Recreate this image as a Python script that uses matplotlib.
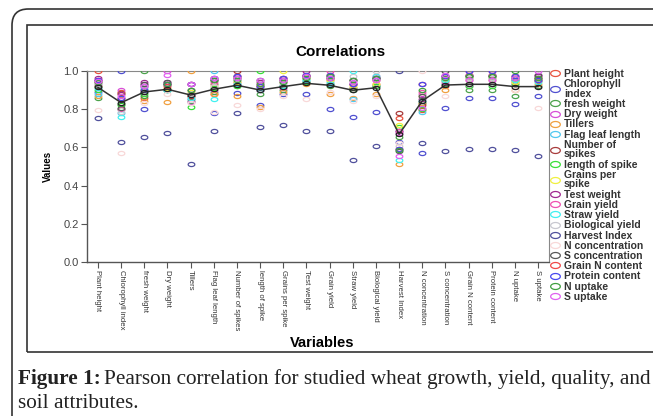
import numpy as np
import matplotlib.pyplot as plt
from matplotlib import font_manager
from matplotlib.path import Path
from matplotlib.patches import FancyBboxPatch, Rectangle

variables = ['Plant height', 'Chlorophyll index', 'fresh weight', 'Dry weight', 'Tillers',
             'Flag leaf length', 'Number of spikes', 'length of spike', 'Grains per spike',
             'Test weight', 'Grain yield', 'Straw yield', 'Biological yield', 'Harvest Index',
             'N concentration', 'S concentration', 'Grain N content', 'Protein content',
             'N uptake', 'S uptake']

legend_labels = ['Plant height', 'Chlorophyll\nindex', 'fresh weight', 'Dry weight', 'Tillers',
                 'Flag leaf length', 'Number of\nspikes', 'length of spike', 'Grains per\nspike',
                 'Test weight', 'Grain yield', 'Straw yield', 'Biological yield', 'Harvest Index',
                 'N concentration', 'S concentration', 'Grain N content', 'Protein content',
                 'N uptake', 'S uptake']

# correlation of each variable (series) with every variable on the x axis
plant_height = [1.0, 0.89, 0.855, 0.93, 0.87, 0.88, 0.94, 0.90, 0.92, 0.96, 0.95, 0.91, 0.93, 0.755, 0.795, 0.92, 0.95, 0.95, 0.94, 0.945]
chlorophyll = [0.89, 1.0, 0.80, 0.90, 0.85, 0.78, 0.885, 0.82, 0.88, 0.878, 0.80, 0.758, 0.783, 0.628, 0.572, 0.807, 0.859, 0.859, 0.828, 0.87]
fresh_weight = [0.855, 0.80, 1.0, 0.93, 0.84, 0.89, 0.92, 0.88, 0.90, 0.94, 0.92, 0.91, 0.92, 0.656, 0.83, 0.93, 0.90, 0.90, 0.87, 0.92]
dry_weight = [0.93, 0.90, 0.93, 1.0, 0.837, 0.90, 0.93, 0.90, 0.91, 0.94, 0.93, 0.90, 0.92, 0.673, 0.88, 0.94, 0.92, 0.93, 0.93, 0.98]
tillers = [0.87, 0.85, 0.84, 0.837, 1.0, 0.88, 0.868, 0.81, 0.89, 0.93, 0.88, 0.86, 0.88, 0.513, 0.83, 0.90, 0.93, 0.93, 0.90, 0.93]
flag_leaf = [0.88, 0.78, 0.89, 0.90, 0.88, 1.0, 0.93, 0.91, 0.92, 0.95, 0.94, 0.85, 0.92, 0.685, 0.784, 0.95, 0.96, 0.96, 0.95, 0.96]
num_spikes = [0.94, 0.885, 0.92, 0.93, 0.868, 0.93, 1.0, 0.92, 0.94, 0.97, 0.96, 0.93, 0.95, 0.778, 0.82, 0.96, 0.97, 0.97, 0.95, 0.96]
spike_length = [0.90, 0.82, 0.88, 0.90, 0.81, 0.91, 0.92, 1.0, 0.92, 0.94, 0.93, 0.90, 0.92, 0.705, 0.80, 0.95, 0.92, 0.92, 0.93, 0.95]
grains_spike = [0.92, 0.88, 0.90, 0.91, 0.89, 0.92, 0.94, 0.92, 1.0, 0.96, 0.95, 0.92, 0.93, 0.718, 0.87, 0.95, 0.96, 0.96, 0.94, 0.95]
test_weight = [0.96, 0.878, 0.94, 0.94, 0.93, 0.95, 0.97, 0.94, 0.96, 1.0, 0.97, 0.95, 0.96, 0.685, 0.85, 0.97, 0.98, 0.98, 0.96, 0.97]
grain_yield = [0.95, 0.80, 0.92, 0.93, 0.88, 0.94, 0.96, 0.93, 0.95, 0.97, 1.0, 0.93, 0.97, 0.685, 0.89, 0.96, 0.98, 0.98, 0.97, 0.96]
straw_yield = [0.91, 0.758, 0.91, 0.90, 0.86, 0.85, 0.93, 0.90, 0.92, 0.95, 0.93, 1.0, 0.97, 0.532, 0.84, 0.95, 0.93, 0.93, 0.95, 0.94]
bio_yield = [0.93, 0.783, 0.92, 0.92, 0.88, 0.92, 0.95, 0.92, 0.93, 0.96, 0.97, 0.97, 1.0, 0.605, 0.87, 0.96, 0.96, 0.96, 0.96, 0.95]
harvest_index = [0.755, 0.628, 0.656, 0.673, 0.513, 0.685, 0.778, 0.705, 0.718, 0.685, 0.685, 0.532, 0.605, 1.0, 0.623, 0.58, 0.59, 0.59, 0.585, 0.555]
n_conc = [0.795, 0.572, 0.83, 0.88, 0.83, 0.784, 0.82, 0.80, 0.87, 0.85, 0.89, 0.84, 0.87, 0.623, 1.0, 0.868, 0.93, 0.93, 0.90, 0.804]
s_conc = [0.92, 0.807, 0.93, 0.94, 0.90, 0.95, 0.96, 0.95, 0.95, 0.97, 0.96, 0.95, 0.96, 0.58, 0.868, 1.0, 0.97, 0.97, 0.96, 0.98]
grain_n = [0.95, 0.859, 0.90, 0.92, 0.93, 0.96, 0.97, 0.92, 0.96, 0.98, 0.98, 0.93, 0.96, 0.59, 0.93, 0.97, 1.0, 0.999, 0.97, 0.95]
protein = [0.95, 0.859, 0.90, 0.93, 0.93, 0.96, 0.97, 0.92, 0.96, 0.98, 0.98, 0.93, 0.96, 0.59, 0.93, 0.97, 0.999, 1.0, 0.97, 0.95]
n_uptake = [0.94, 0.828, 0.87, 0.93, 0.90, 0.95, 0.95, 0.93, 0.94, 0.96, 0.97, 0.95, 0.96, 0.585, 0.90, 0.96, 0.97, 0.97, 1.0, 0.96]
s_uptake = [0.945, 0.87, 0.92, 0.98, 0.93, 0.96, 0.96, 0.95, 0.95, 0.97, 0.96, 0.94, 0.95, 0.555, 0.804, 0.98, 0.95, 0.95, 0.96, 1.0]

# black summary line
mean_line = [0.913, 0.833, 0.889, 0.903, 0.873, 0.903, 0.924, 0.899, 0.917, 0.934,
             0.924, 0.898, 0.911, 0.668, 0.842, 0.925, 0.929, 0.929, 0.917, 0.917]

series = [plant_height, chlorophyll, fresh_weight, dry_weight, tillers, flag_leaf, num_spikes,
          spike_length, grains_spike, test_weight, grain_yield, straw_yield, bio_yield,
          harvest_index, n_conc, s_conc, grain_n, protein, n_uptake, s_uptake]

colors = ['#e8533f', '#5050d0', '#4ca24c', '#d84fd8', '#f0a040', '#50c8f0', '#a83c3c',
          '#38e038', '#f0f040', '#a02890', '#f050b0', '#40f0f0', '#c8c8d0', '#50509c',
          '#f8d8d8', '#585858', '#f04848', '#4848f0', '#40a040', '#e060f0']

W, H = 653, 416
fig = plt.figure(figsize=(W / 100, H / 100), dpi=100)
plt.rcParams['font.family'] = ['Liberation Sans', 'DejaVu Sans']

installed = {f.name for f in font_manager.fontManager.ttflist}
if 'Liberation Sans Narrow' in installed:
    tick_font, tick_size = 'Liberation Sans Narrow', 6.8
else:
    tick_font, tick_size = 'Liberation Sans', 5.6

# page decorations
fig.patches.append(FancyBboxPatch((12 / W, -0.2), 1.2, 1.2 - 9 / H,
                                  boxstyle='round,pad=0,rounding_size=0.025',
                                  mutation_aspect=W / H, fill=False, lw=1.2,
                                  ec='#333333', transform=fig.transFigure))
fig.patches.append(Rectangle((27 / W, 1 - 352 / H), 1.0, (352 - 25) / H, fill=False,
                             lw=1.2, ec='#333333', transform=fig.transFigure))

ax = fig.add_axes([87 / W, 1 - 262.3 / H, (549 - 87) / W, (262.3 - 70.7) / H])

t = np.linspace(0, 2 * np.pi, 41)
ellipse = Path(np.column_stack([np.cos(t), 0.62 * np.sin(t)]))

x = np.arange(len(variables))
handles = []
for vals, col, lab in zip(series, colors, legend_labels):
    h, = ax.plot(x, vals, ls='none', marker=ellipse, ms=4.8, mfc='none', mec=col,
                 mew=0.9, label=lab, zorder=3)
    handles.append(h)

ax.plot(x, mean_line, color='#333333', lw=1.1, marker=ellipse, ms=4.8, mfc='none',
        mec='#222222', mew=0.9, zorder=4)

ax.set_xlim(-0.475, len(variables) - 1 + 0.475)
ax.set_ylim(0, 1.0)
ax.set_yticks([0.0, 0.2, 0.4, 0.6, 0.8, 1.0])
ax.set_yticklabels(['0.0', '0.2', '0.4', '0.6', '0.8', '1.0'], fontsize=8, color='#444444')
ax.set_xticks(x)
ax.set_xticklabels(variables, rotation=270, fontsize=tick_size, va='top', ha='center',
                   family=[tick_font, 'DejaVu Sans'], color='#333333')
ax.tick_params(axis='both', length=4, width=0.8, color='#555555')
ax.tick_params(axis='x', pad=1.5)
ax.tick_params(axis='y', pad=2)
for s in ['left', 'bottom']:
    ax.spines[s].set_color('#555555')
    ax.spines[s].set_linewidth(1.0)
for s in ['top', 'right']:
    ax.spines[s].set_color('#888888')
    ax.spines[s].set_linewidth(0.8)

fig.text(48 / W, 1 - 166 / H, 'Values', rotation=90, fontsize=7, weight='bold',
         ha='center', va='center')
fig.text(322 / W, 1 - 343 / H, 'Variables', fontsize=10.5, weight='bold', ha='center',
         va='center')
fig.text(340 / W, 1 - 52 / H, 'Correlations', fontsize=11, weight='bold', ha='center',
         va='center')

leg = fig.legend(handles, legend_labels, loc='upper left',
                 bbox_to_anchor=(550 / W, 1 - 69 / H), frameon=False,
                 prop={'size': 7.5, 'weight': 'bold'}, labelspacing=0.02,
                 handlelength=0.9, handletextpad=0.45, borderpad=0, borderaxespad=0,
                 markerscale=1.45, labelcolor='#333333')
for txt in leg.get_texts():
    txt.set_linespacing(0.95)

# caption
serif = ['Liberation Serif', 'DejaVu Serif']
cap_y1 = 1 - 379 / H
cap_y2 = 1 - 404 / H
t1 = fig.text(18 / W, cap_y1, 'Figure 1:', family=serif, weight='bold', fontsize=15.3,
              va='center', color='#222222')
renderer = fig.canvas.get_renderer()
bb = t1.get_window_extent(renderer)
fig.text(bb.x1 / W + 3 / W, cap_y1,
         'Pearson correlation for studied wheat growth, yield, quality, and',
         family=serif, fontsize=15.3, va='center', color='#222222')
fig.text(18 / W, cap_y2, 'soil attributes.', family=serif, fontsize=15.3, va='center',
         color='#222222')

fig.savefig('out.png', dpi=100)
